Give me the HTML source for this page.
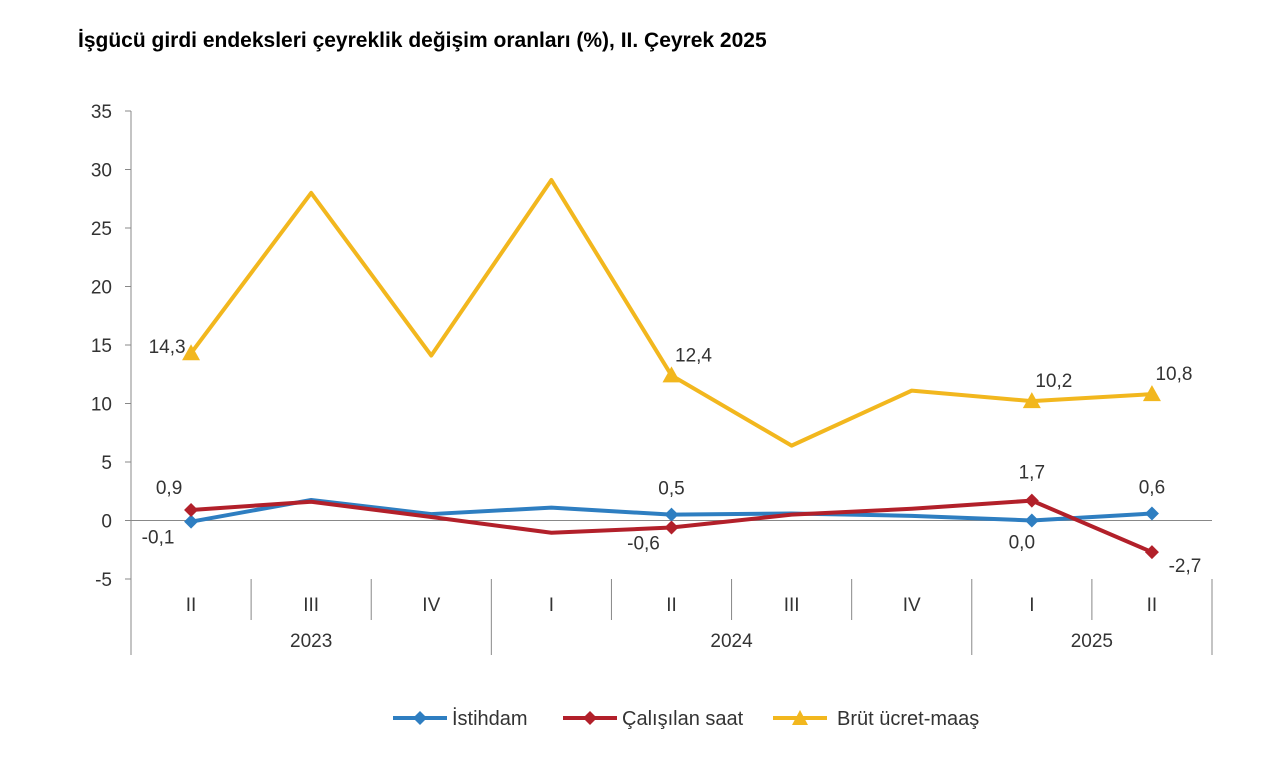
<!DOCTYPE html>
<html><head><meta charset="utf-8">
<style>
body{margin:0;background:#fff;width:1280px;height:761px;overflow:hidden;font-family:"Liberation Sans",sans-serif;}
svg text{font-family:"Liberation Sans",sans-serif;}
</style></head><body>
<svg id="chart" width="1280" height="761">
<text x="78" y="47" font-size="21" font-weight="bold" fill="#000">İşgücü girdi endeksleri çeyreklik değişim oranları (%), II. Çeyrek 2025</text>
<g id="axes"></g><g id="series"></g><g id="legend"></g>
</svg>
<script>
const quarters=["II","III","IV","I","II","III","IV","I","II"];
const years=["2023","2024","2025"];
const yearSpans=[3,4,2];
const yTicks=[-5,0,5,10,15,20,25,30,35];
const istihdam=[-0.1,1.75,0.55,1.1,0.5,0.6,0.4,0.0,0.6];
const calisilan=[0.9,1.6,0.3,-1.05,-0.6,0.5,1.0,1.7,-2.7];
const brut=[14.3,28.0,14.1,29.1,12.4,6.4,11.1,10.2,10.8];
const istLabels=["-0,1",null,null,null,"0,5",null,null,"0,0","0,6"];
const calLabels=["0,9",null,null,null,"-0,6",null,null,"1,7","-2,7"];
const brutLabels=["14,3",null,null,null,"12,4",null,null,"10,2","10,8"];
const NS="http://www.w3.org/2000/svg";
const L=131,R=1212,T=111,B=579,yMin=-5,yMax=35;
const bw=(R-L)/quarters.length;
const xS=i=>L+bw*(i+0.5);
const yS=v=>B-(v-yMin)/(yMax-yMin)*(B-T);
const FS=19;
function mk(tag,at,parent){const e=document.createElementNS(NS,tag);for(const k in at)e.setAttribute(k,at[k]);parent.appendChild(e);return e;}
const ax=document.getElementById('axes');
let e=mk('line',{x1:L,y1:T,x2:L,y2:655,stroke:'#888'},ax);


yTicks.forEach(v=>{
 mk('line',{x1:L-6,y1:yS(v),x2:L,y2:yS(v),stroke:'#888'},ax);
 const t=mk('text',{x:L-19,y:yS(v)+7,'text-anchor':'end','font-size':FS,fill:'#333'},ax);t.textContent=v;
 
 
});
e=mk('line',{x1:L,y1:yS(0),x2:R,y2:yS(0),stroke:'#888'},ax);


quarters.forEach((q,i)=>{
 const t=mk('text',{x:xS(i),y:611,'text-anchor':'middle','font-size':FS,fill:'#333'},ax);t.textContent=q;
 
 
});
let acc=0;const bounds=[0];yearSpans.forEach(s=>{acc+=s;bounds.push(acc);});
for(let i=1;i<=quarters.length;i++){const yb=bounds.includes(i)?655:620;mk('line',{x1:L+bw*i,y1:yS(-5),x2:L+bw*i,y2:yb,stroke:'#888'},ax);}
years.forEach((y,k)=>{
 const c=L+bw*(bounds[k]+bounds[k+1])/2;
 const t=mk('text',{x:c,y:647,'text-anchor':'middle','font-size':FS,fill:'#333'},ax);t.textContent=y;
 
 
});
const sg=document.getElementById('series');
function marker(x,y,shape,color,g){
 if(shape==='d') return mk('polygon',{points:`${x},${y-7} ${x+7},${y} ${x},${y+7} ${x-7},${y}`,fill:color},g);
 return mk('polygon',{points:`${x},${y-9} ${x+9},${y+7} ${x-9},${y+7}`,fill:color},g);
}
function series(vals,labels,color,shape,name,offs){
 const g=mk('g',{},sg);
 
 
 const p=mk('polyline',{points:vals.map((v,i)=>xS(i)+','+yS(v)).join(' '),fill:'none',stroke:color,'stroke-width':4,'stroke-linejoin':'round'},g);
 
 
 vals.forEach((v,i)=>{
  if(labels[i]==null)return;
  const m=marker(xS(i),yS(v),shape,color,g);
  
  
  const o=offs(i);
  const t=mk('text',{x:xS(i)+o[0],y:yS(v)+o[1],'text-anchor':'middle','font-size':FS,fill:'#333'},g);t.textContent=labels[i];
  
  
 });
}
series(brut,brutLabels,'#F2B71E','t','brut-ucret',i=>i===0?[-24,0]:[22,-14]);
series(istihdam,istLabels,'#2E7EC1','d','istihdam',i=>i===0?[-33,22]:(i===7?[-10,28]:[0,-20]));
series(calisilan,calLabels,'#B2202A','d','calisilan-saat',i=>i===0?[-22,-16]:(i===4?[-28,22]:(i===8?[33,20]:[0,-22])));
const lg=document.getElementById('legend');
const items=[["İstihdam",'#2E7EC1','d',393],["Çalışılan saat",'#B2202A','d',563],["Brüt ücret-maaş",'#F2B71E','t',773]];
items.forEach(it=>{
 const g=mk('g',{},lg);
 
 
 mk('line',{x1:it[3],y1:718,x2:it[3]+54,y2:718,stroke:it[1],'stroke-width':4},g);
 if(it[2]==='d') marker(it[3]+27,718,'d',it[1],g); else mk('polygon',{points:`${it[3]+27},${710} ${it[3]+35},${725} ${it[3]+19},${725}`,fill:it[1]},g);
 const t=mk('text',{x:it[3]+(it[2]==='t'?64:59),y:725,'font-size':20,fill:'#333'},g);t.textContent=it[0];
});
</script>
</body></html>
